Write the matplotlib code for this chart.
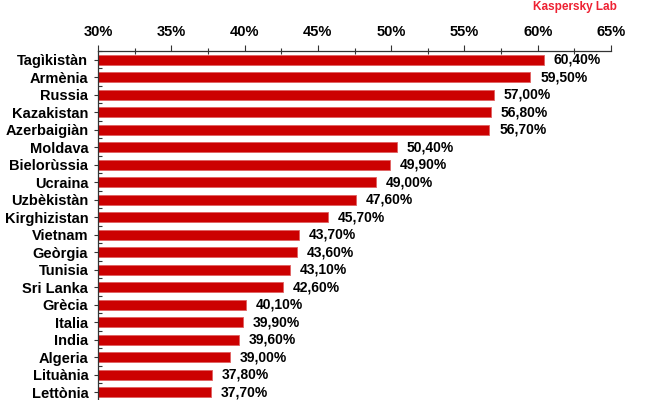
import numpy as np
import matplotlib.pyplot as plt
from matplotlib.ticker import MultipleLocator, FuncFormatter

plt.rcParams['font.family'] = ['Liberation Sans', 'DejaVu Sans']

# === Data ===
countries = ["Tagìkistàn", "Armènia", "Russia", "Kazakistan", "Azerbaigiàn",
             "Moldava", "Bielorùssia", "Ucraina", "Uzbèkistàn", "Kirghizistan",
             "Vietnam", "Geòrgia", "Tunisia", "Sri Lanka", "Grècia",
             "Italia", "India", "Algeria", "Lituània", "Lettònia"]
values = [60.4, 59.5, 57.0, 56.8, 56.7,
          50.4, 49.9, 49.0, 47.6, 45.7,
          43.7, 43.6, 43.1, 42.6, 40.1,
          39.9, 39.6, 39.0, 37.8, 37.7]
value_labels = ["60,40%", "59,50%", "57,00%", "56,80%", "56,70%",
                "50,40%", "49,90%", "49,00%", "47,60%", "45,70%",
                "43,70%", "43,60%", "43,10%", "42,60%", "40,10%",
                "39,90%", "39,60%", "39,00%", "37,80%", "37,70%"]
x_min, x_max = 30, 65

fig = plt.figure(figsize=(6.5, 4.0), dpi=100)
ax = fig.add_axes([98 / 650, -0.0025, (611 - 98) / 650, 1 - 51 / 400 + 0.0025])

y = np.arange(len(countries))
ax.barh(y, [v - x_min for v in values], left=x_min, height=0.56,
        color="#CC0000", edgecolor="#E06060", linewidth=0.6)

for yi, v, lab in zip(y, values, value_labels):
    ax.annotate(lab, (v, yi), xytext=(7, 0), textcoords="offset points",
                ha="left", va="center", fontsize=10, fontweight="bold",
                color="black")

ax.set_xlim(x_min, x_max)
ax.set_ylim(len(countries) - 0.5, -0.5)

ax.xaxis.tick_top()
ax.xaxis.set_major_locator(MultipleLocator(5))
ax.xaxis.set_minor_locator(MultipleLocator(2.5))
ax.xaxis.set_major_formatter(FuncFormatter(lambda v, p: f"{v:.0f}%"))
ax.tick_params(axis="x", which="major", direction="out", length=4,
               width=0.8, color="#333333", pad=5, labelsize=10.5)
ax.tick_params(axis="x", which="minor", direction="inout", length=4,
               width=0.8, color="#333333")
for t in ax.get_xticklabels():
    t.set_fontweight("bold")

ax.set_yticks(y)
ax.set_yticklabels(countries, fontsize=10.5, fontweight="bold")
ax.set_yticks(np.arange(-0.5, len(countries), 1), minor=True)
ax.tick_params(axis="y", which="major", direction="out", length=3,
               width=0.8, color="#333333", pad=4)
ax.tick_params(axis="y", which="minor", direction="in", length=3,
               width=0.8, color="#333333")

for side in ["right", "bottom"]:
    ax.spines[side].set_visible(False)
for side in ["top", "left"]:
    ax.spines[side].set_color("#333333")
    ax.spines[side].set_linewidth(0.9)

fig.text(575 / 650, 1 - 7 / 400, "Kaspersky Lab", color="#EE2233",
         fontsize=8.5, fontweight="bold", ha="center", va="center")

fig.savefig("out.png", dpi=100)
